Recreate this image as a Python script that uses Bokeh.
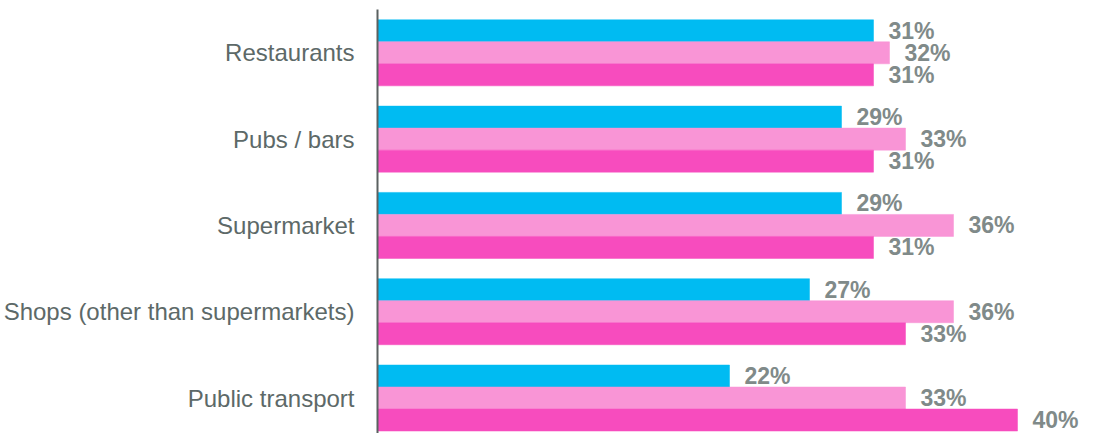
from bokeh.plotting import figure
from bokeh.models import Range1d, FixedTicker, ColumnDataSource
from bokeh.core.properties import value
from bokeh.embed import file_html
from bokeh.resources import INLINE

categories = ["Restaurants", "Pubs / bars", "Supermarket",
              "Shops (other than supermarkets)", "Public transport"]
series_a = [31, 29, 29, 27, 22]   # cyan
series_b = [32, 33, 36, 36, 33]   # light pink
series_c = [31, 31, 31, 33, 40]   # hot pink
colors = ["#00BBF2", "#F995D6", "#F74CBE"]

bar_h = 0.255
offsets = [-bar_h, 0.0, bar_h]

p = figure(width=1081, height=433, output_backend="svg", toolbar_location=None,
           x_range=Range1d(0, 44), y_range=Range1d(start=4.411, end=-0.502),
           min_border_left=373, min_border_right=0, min_border_top=9, min_border_bottom=0)

for vals, off, col in zip([series_a, series_b, series_c], offsets, colors):
    src = ColumnDataSource(dict(
        y=[i + off for i in range(len(categories))],
        v=vals,
        lab=[f"{v}%" for v in vals],
    ))
    p.hbar(y="y", left=0, right="v", height=bar_h, source=src,
           fill_color=col, line_color=col, line_width=0.5)
    p.text(x="v", y="y", text="lab", source=src, x_offset=15,
           text_align="left", text_baseline="middle",
           text_font=value("Liberation Sans"), text_font_style="bold",
           text_font_size="23px", text_color="#808A89")

p.xaxis.visible = False
p.xgrid.visible = False
p.ygrid.visible = False
p.outline_line_color = None

ya = p.yaxis[0]
ya.ticker = FixedTicker(ticks=list(range(len(categories))))
ya.major_label_overrides = {i: c for i, c in enumerate(categories)}
ya.major_tick_line_color = None
ya.minor_tick_line_color = None
ya.axis_line_color = "#5A6160"
ya.axis_line_width = 2
ya.major_label_text_font = "Liberation Sans"
ya.major_label_text_font_size = "24px"
ya.major_label_text_color = "#5D6968"
ya.major_label_standoff = 17

open("out.html", "w").write(file_html(p, INLINE))
